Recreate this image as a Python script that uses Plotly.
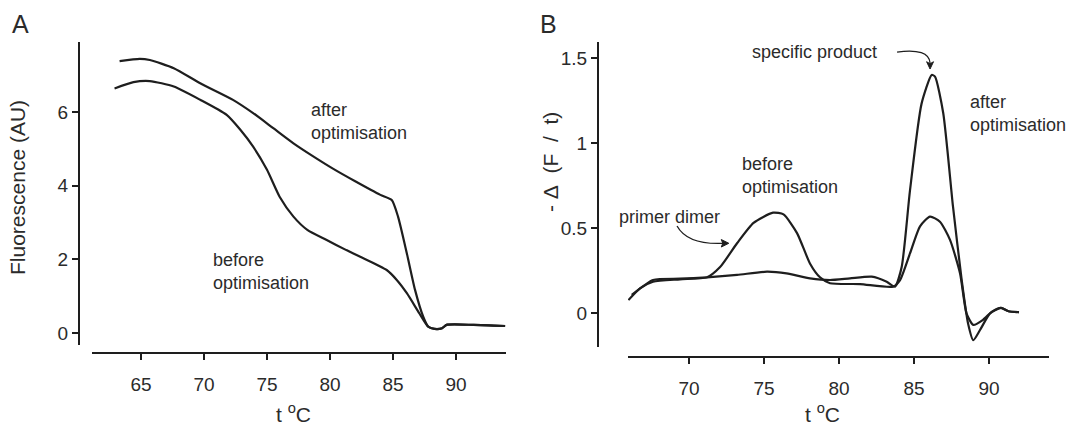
import plotly.graph_objects as go

W, H = 1073, 428

# Panel A: melting curves, fluorescence against temperature
a_after_t = [63.3, 64.9, 65.7, 67.6, 69.7, 72.3, 73.9, 75.5, 77.1, 78.7, 80.3, 82.0,
             84.0, 84.9, 85.4, 86.1, 86.75, 87.4, 87.8, 88.3, 88.9, 89.25, 91.4, 93.9]
a_after_f = [7.38, 7.44, 7.41, 7.19, 6.78, 6.33, 5.97, 5.56, 5.15, 4.79, 4.45, 4.12,
             3.75, 3.61, 3.16, 2.16, 1.17, 0.44, 0.17, 0.11, 0.13, 0.22, 0.22, 0.19]

a_before_t = [62.9, 64.4, 65.7, 67.6, 69.7, 71.8, 72.9, 73.9, 75.0, 76.0, 77.1, 78.2, 79.7,
              81.3, 82.4, 84.5, 85.3, 86.1, 87.1, 87.8, 88.3, 88.9, 89.25, 91.4, 93.9]
a_before_f = [6.64, 6.81, 6.84, 6.69, 6.33, 5.92, 5.51, 5.06, 4.43, 3.70, 3.16, 2.80, 2.53,
              2.25, 2.07, 1.71, 1.44, 1.08, 0.53, 0.17, 0.11, 0.13, 0.22, 0.22, 0.19]

# Panel B: melting peaks, -d(F)/dt against temperature
b_before_t = [65.96, 66.73, 67.6, 69.4, 71.2, 72.07, 73.2, 74.3, 75.6, 76.3, 77.2, 78.07,
              78.73, 79.4, 81.4, 83.6, 84.07, 84.73, 85.4, 86.07, 86.73, 87.4, 88.07, 88.5,
              88.95, 89.6, 90.2, 90.8, 91.3, 92.0]
b_before_d = [0.076, 0.145, 0.184, 0.198, 0.21, 0.27, 0.41, 0.53, 0.59, 0.58, 0.47, 0.29,
              0.21, 0.175, 0.17, 0.155, 0.194, 0.35, 0.51, 0.567, 0.537, 0.43, 0.233, -0.002,
              -0.07, -0.04, 0.008, 0.03, 0.01, 0.005]

b_after_t = [66.18, 67.6, 69.4, 71.2, 73.2, 75.2, 76.5, 78.07, 79.4, 80.73, 82.18, 83.18,
             83.73, 84.18, 84.73, 85.5, 86.18, 86.4, 86.95, 87.6, 88.18, 88.6, 88.95, 89.4,
             90.07, 90.8, 91.3, 92.0]
b_after_d = [0.106, 0.194, 0.202, 0.21, 0.224, 0.243, 0.233, 0.204, 0.194, 0.204, 0.214, 0.184,
             0.155, 0.272, 0.72, 1.23, 1.40, 1.39, 1.175, 0.625, 0.194, -0.06, -0.16, -0.1,
             -0.002, 0.03, 0.01, 0.005]

a_xticks = [65, 70, 75, 80, 85, 90]
a_yticks = [0, 2, 4, 6]
b_xticks = [70, 75, 80, 85, 90]
b_yticks = [0, 0.5, 1, 1.5]
b_yticktext = ["0", "0.5", "1", "1.5"]

INK = "#1e1e1e"
TXT = "#2b2b2b"
FONT = "Liberation Sans, Arial, Helvetica, sans-serif"


def px(x):
    return x / W


def py(y):
    return 1 - y / H


fig = go.Figure()
curve = dict(color=INK, width=2.2, shape="spline", smoothing=0.6)
for xs, ys, xa, ya, nm in [
    (a_after_t, a_after_f, "x", "y", "after optimisation"),
    (a_before_t, a_before_f, "x", "y", "before optimisation"),
    (b_before_t, b_before_d, "x2", "y2", "before optimisation"),
    (b_after_t, b_after_d, "x2", "y2", "after optimisation"),
]:
    fig.add_trace(go.Scatter(x=xs, y=ys, mode="lines", line=curve,
                             xaxis=xa, yaxis=ya, name=nm, hoverinfo="skip"))

axis_common = dict(showgrid=False, zeroline=False, showline=True, linecolor=INK,
                   linewidth=2, ticks="outside", ticklen=6, tickwidth=2, tickcolor=INK,
                   tickfont=dict(family=FONT, size=19, color=TXT), fixedrange=True)

fig.update_layout(
    width=W, height=H, margin=dict(l=0, r=0, t=0, b=0),
    paper_bgcolor="white", plot_bgcolor="white", showlegend=False,
    xaxis=dict(domain=[px(92), px(506)], range=[61.11, 93.97], anchor="free",
               position=py(353), tickvals=a_xticks, ticklabelstandoff=8, **axis_common),
    yaxis=dict(domain=[py(345), py(42)], range=[-0.326, 7.90], anchor="free",
               position=px(79), tickvals=a_yticks, **axis_common),
    xaxis2=dict(domain=[px(628), px(1049)], range=[65.93, 94.0], anchor="free",
                position=py(357), tickvals=b_xticks, ticklabelstandoff=8, **axis_common),
    yaxis2=dict(domain=[py(347), py(42)], range=[-0.2, 1.594], anchor="free",
                position=px(598), tickvals=b_yticks, ticktext=b_yticktext, **axis_common),
)


def label(text, x, y, size=18, xanchor="left", angle=0):
    return dict(text=text, x=px(x), y=py(y), xref="paper", yref="paper",
                xanchor=xanchor, yanchor="middle", align="left", showarrow=False,
                textangle=angle, font=dict(family=FONT, size=size, color=TXT))


annotations = [
    label("A", 20, 24, size=25, xanchor="center"),
    label("B", 548, 24, size=25, xanchor="center"),
    label("after<br>optimisation", 309, 121.5),
    label("before<br>optimisation", 211, 271.5),
    label("t <sup>o</sup>C", 293, 413, size=21, xanchor="center"),
    label("Fluorescence (AU)", 18, 188, size=21, xanchor="center", angle=-90),
    label("specific product", 814, 52, xanchor="center"),
    label("after<br>optimisation", 968, 113.5),
    label("before<br>optimisation", 740, 175),
    label("primer dimer", 722, 217, xanchor="right"),
    label("t <sup>o</sup>C", 822, 413, size=21, xanchor="center"),
    label("-\u00a0\u0394\u00a0\u00a0(F\u00a0\u00a0/\u00a0\u00a0t)", 550, 162, size=21,
          xanchor="center", angle=-90),
]

# curved pointers with small filled heads
pointer = dict(color=INK, width=1.3)
shapes = [
    dict(type="path", xref="x2", yref="y2", path="M 69.2,0.512 Q 69.9,0.40 72.3,0.41",
         line=pointer),
    dict(type="path", xref="x2", yref="y2",
         path="M 72.65,0.41 L 72.15,0.432 L 72.25,0.41 L 72.15,0.388 Z",
         line=dict(color=INK, width=1), fillcolor=INK),
    dict(type="path", xref="x2", yref="y2", path="M 83.87,1.535 Q 86.0,1.56 86.07,1.47",
         line=pointer),
    dict(type="path", xref="x2", yref="y2",
         path="M 86.07,1.435 L 85.84,1.478 L 86.07,1.466 L 86.30,1.478 Z",
         line=dict(color=INK, width=1), fillcolor=INK),
]

fig.update_layout(annotations=annotations, shapes=shapes)
fig.write_html("out.html")
